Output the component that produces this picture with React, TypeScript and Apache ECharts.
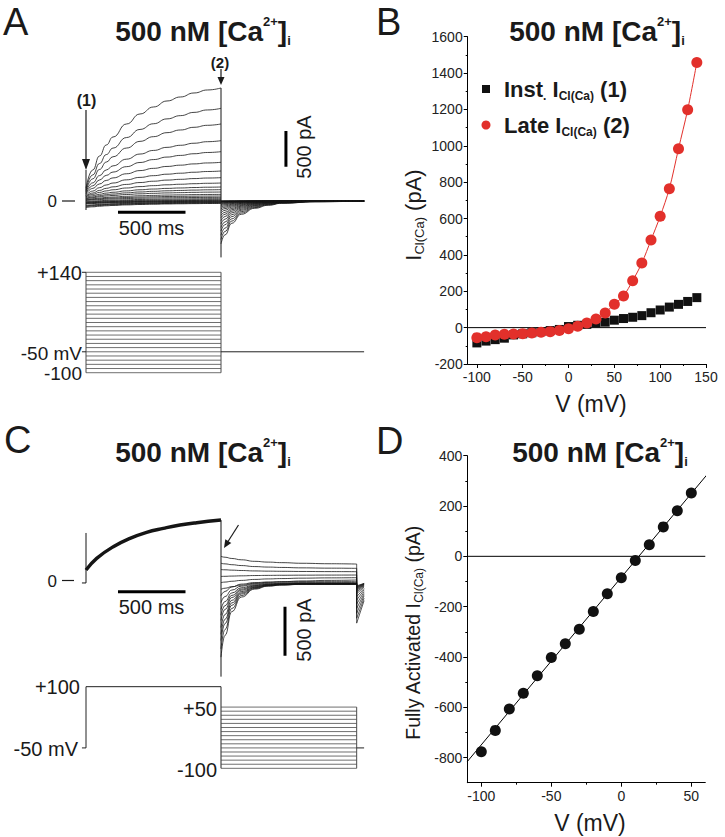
import React, { useEffect, useRef } from "react";
import * as echarts from "echarts";

const FONT = '"Liberation Sans", Arial, Helvetica, sans-serif';
const INK = "#1a1a1a";
const RED = "#e2302b";

// ---------- Panel B : I-V of instantaneous and late currents ----------
const B_V = [-100, -90, -80, -70, -60, -50, -40, -30, -20, -10, 0, 10, 20, 30, 40, 50, 60, 70, 80, 90, 100, 110, 120, 130, 140];
const B_INST = [-84, -74, -66, -58, -40, -34, -28, -22, -16, -10, 6, 13, 18, 26, 30, 41, 50, 57, 66, 82, 97, 113, 128, 144, 165];
const B_LATE = [-55, -50, -40, -37, -35, -33, -29, -26, -22, -16, -6, 7, 26, 48, 81, 129, 174, 258, 355, 482, 612, 764, 984, 1198, 1458];
const B_X_MAJOR = [-100, -50, 0, 50, 100, 150];
const B_X_MINOR = [-75, -25, 25, 75, 125];

// ---------- Panel D : fully activated I-V ----------
const D_V = [-100, -90, -80, -70, -60, -50, -40, -30, -20, -10, 0, 10, 20, 30, 40, 50];
const D_I = [-777, -692, -607, -544, -475, -402, -348, -290, -219, -149, -85, -17, 46, 117, 181, 252];
const D_FIT = [[-110, -816], [61, 323]];
const D_Y_MAJOR = [-800, -600, -400, -200, 0, 200, 400];
const D_Y_MINOR = [-700, -500, -300, -100, 100, 300];
const D_X_MAJOR = [-100, -50, 0, 50];
const D_X_MINOR = [-75, -25, 25];

// ---------- Panel A : current traces (pA) during steps, tails at -50 mV ----------
const A_V = [140, 130, 120, 110, 100, 90, 80, 70, 60, 50, 40, 30, 20, 10, 0, -10, -20, -30, -40, -50, -60, -70, -80, -90, -100];
const A_INST = [182, 161, 142, 125, 108, 96, 77, 64, 58, 46, 34, 28, 17, 12, 5, -10, -17, -24, -29, -36, -41, -62, -70, -80, -92];
const A_LATE = [1583, 1298, 1079, 845, 691, 542, 420, 327, 252, 196, 159, 126, 93, 70, 51, 33, 19, 9, 2, -4, -10, -16, -22, -28, -34];
const A_TAIL = [-600, -540, -480, -420, -370, -320, -275, -235, -200, -165, -135, -110, -88, -68, -52, -40, -30, -22, -16, -11, -7, -4, -2, -1, 0];
// normalised activation time course (ms, fraction)
const A_ACT_T = [0, 50, 100, 150, 200, 300, 400, 500, 600, 700, 800, 900, 1000];
const A_ACT_F = [0, 0.18, 0.32, 0.43, 0.51, 0.64, 0.74, 0.81, 0.87, 0.91, 0.95, 0.98, 1.0];
// normalised tail deactivation (ms after step end, fraction)
const A_TAIL_T = [0, 30, 80, 150, 250, 350, 450, 700, 1060];
const A_TAIL_F = [1, 0.79, 0.52, 0.31, 0.17, 0.1, 0.054, 0.018, 0];
const A_SPIKE_ON = [-126, 434];
const A_SPIKE_OFF = [1583, -790];
const A_PROTO_V = [-100, -90, -80, -70, -60, -50, -40, -30, -20, -10, 0, 10, 20, 30, 40, 50, 60, 70, 80, 90, 100, 110, 120, 130, 140];
const A_BAR_T = [[237, -158], [737, -158]];
const A_BAR_I = [[1481, 480], [1481, 980]];

// ---------- Panel C : +100 mV prepulse, then test steps ----------
const C_PRE = [[0, 112], [79, 231], [202, 350], [326, 435], [449, 497], [573, 537], [696, 571], [820, 595], [1000, 622]];
const C_BASE = [[-30, -20], [0, -20]];
const C_SPIKE_ON = [-20, 490];
const C_SPIKE_OFF = [622, -976];
const C_V = [50, 40, 30, 20, 10, 0, -10, -20, -30, -40, -50, -60, -70, -80, -90, -100];
const C_SS = [173, 129, 95, 61, 34, 10, -7, -17, -22, -26, -28, -30, -31, -32, -33, -34];
const C_END_TAIL = [-430, -380, -330, -280, -235, -195, -160, -130, -110, -95, -85, -75, -68, -62, -56, -50];
const C_END_TAIL2 = [-200, -175, -150, -130, -110, -90, -75, -60, -52, -45, -40, -36, -32, -29, -26, -24];
const C_TEST_T = [0, 30, 80, 150, 250, 350, 450, 600, 800, 1005];
const C_FAST_F = [0, 0.3, 0.625, 0.825, 0.935, 0.975, 0.99, 1, 1, 1];
const C_SLOW_F = [0, 0.12, 0.28, 0.45, 0.65, 0.75, 0.82, 0.9, 0.96, 1];
const C_PRE_V = 100;
const C_HOLD_V = -50;
const C_BAR_T = [[237, -109], [737, -109]];
const C_BAR_I = [[1474, -262], [1474, -762]];

const TRACE = "#151515";
const PROTO = "#4a4a4a";

function line(xi: number, data: any[], color: string, width: number, smooth: any = false, extra: any = {}) {
  return {
    type: "line",
    xAxisIndex: xi,
    yAxisIndex: xi,
    data,
    symbol: "none",
    smooth,
    smoothMonotone: smooth === true ? "x" : undefined,
    lineStyle: { color, width },
    silent: true,
    ...extra,
  };
}

function hiddenX(grid: number) {
  return { type: "value", gridIndex: grid, min: -200, max: 2060, show: false };
}
function hiddenY(grid: number, min: number, max: number) {
  return { type: "value", gridIndex: grid, min, max, show: false };
}

const plain = (v: number) => String(v);
const tickLabel = { fontSize: 14, color: "#222", fontFamily: FONT, formatter: plain };

function titleEl(x: number, y: number) {
  return {
    type: "text",
    x,
    y,
    style: {
      text: "{m|500 nM [Ca}{sup|2+}{m|]}{sub|i}",
      align: "center",
      verticalAlign: "middle",
      rich: {
        m: { fontSize: 28, fontWeight: "bold", fontFamily: FONT, fill: INK, lineHeight: 32 },
        sup: { fontSize: 13, fontWeight: "bold", fontFamily: FONT, fill: INK, verticalAlign: "top", lineHeight: 13 },
        sub: { fontSize: 13, fontWeight: "bold", fontFamily: FONT, fill: INK, verticalAlign: "bottom", lineHeight: 16 },
      },
    },
  };
}

function txt(x: number, y: number, text: string, size: number, align = "right", extra: any = {}) {
  return {
    type: "text",
    x,
    y,
    style: { text, fontSize: size, fontFamily: FONT, fill: INK, align, verticalAlign: "middle", ...extra },
  };
}

function gline(x1: number, y1: number, x2: number, y2: number, w = 1.2) {
  return { type: "line", shape: { x1, y1, x2, y2 }, style: { stroke: INK, lineWidth: w } };
}

function buildOption() {
  const series: any[] = [];

  // ---- Panel A traces (grid 0)
  A_V.forEach((_v, i) => {
    const inst = A_INST[i];
    const late = A_LATE[i];
    const tail = A_TAIL[i];
    series.push(line(0, A_ACT_T.map((t, k) => [t, inst + (late - inst) * A_ACT_F[k]]), TRACE, 0.8, true));
    series.push(line(0, A_TAIL_T.map((t, k) => [1000 + t, tail * A_TAIL_F[k]]), TRACE, 0.8, true));
  });
  series.push(line(0, [[0, A_SPIKE_ON[0]], [0, A_SPIKE_ON[1]]], TRACE, 1));
  series.push(line(0, [[1000, A_SPIKE_OFF[0]], [1000, A_SPIKE_OFF[1]]], TRACE, 1));
  series.push(line(0, A_BAR_T, "#000", 3));
  series.push(line(0, A_BAR_I, "#000", 3));

  // ---- Panel A protocol (grid 1)
  A_PROTO_V.forEach((v) => series.push(line(1, [[0, v], [1000, v]], PROTO, 0.8)));
  series.push(line(1, [[0, A_PROTO_V[0]], [0, A_PROTO_V[A_PROTO_V.length - 1]]], PROTO, 1));
  series.push(line(1, [[1000, A_PROTO_V[0]], [1000, A_PROTO_V[A_PROTO_V.length - 1]]], PROTO, 1));
  series.push(line(1, [[1000, -50], [2060, -50]], "#222", 1));
  series.push(line(1, [[-30, 140], [0, 140]], "#222", 1));
  series.push(line(1, [[-30, -50], [0, -50]], "#222", 1));

  // ---- Panel C traces (grid 2)
  series.push(line(2, C_BASE, TRACE, 1));
  series.push(line(2, [[0, C_SPIKE_ON[0]], [0, C_SPIKE_ON[1]]], TRACE, 1));
  series.push(line(2, C_PRE, TRACE, 3.4, 0.45));
  series.push(line(2, [[1000, C_SPIKE_OFF[0]], [1000, C_SPIKE_OFF[1]]], TRACE, 1));
  C_V.forEach((v, i) => {
    const s = D_I[D_V.indexOf(v)];
    const e = C_SS[i];
    const F = v >= 0 ? C_SLOW_F : C_FAST_F;
    series.push(line(2, C_TEST_T.map((t, k) => [1000 + t, s + (e - s) * F[k]]), TRACE, 0.8, true));
    series.push(line(2, [[2005, e], [2005, C_END_TAIL[i]], [2060, C_END_TAIL2[i]]], TRACE, 0.7));
  });
  series.push(line(2, C_BAR_T, "#000", 3));
  series.push(line(2, C_BAR_I, "#000", 3));

  // ---- Panel C protocol (grid 3)
  series.push(line(3, [[-30, C_HOLD_V], [0, C_HOLD_V], [0, C_PRE_V], [1000, C_PRE_V]], "#222", 1));
  series.push(line(3, [[1000, C_V[C_V.length - 1]], [1000, C_PRE_V]], "#222", 1));
  C_V.forEach((v) => series.push(line(3, [[1000, v], [2005, v]], PROTO, 0.8)));
  series.push(line(3, [[2005, C_V[C_V.length - 1]], [2005, C_V[0]]], PROTO, 1));
  series.push(line(3, [[2005, C_HOLD_V], [2060, C_HOLD_V]], "#222", 1));

  // ---- Panel B (axes 4)
  series.push(line(4, [[-110, 0], [150, 0]], "#000", 1));
  series.push({
    type: "scatter",
    xAxisIndex: 4,
    yAxisIndex: 4,
    data: B_V.map((v, i) => [v, B_INST[i]]),
    symbol: "rect",
    symbolSize: 9,
    itemStyle: { color: "#111", opacity: 1 },
    z: 3,
  });
  series.push({
    type: "line",
    xAxisIndex: 4,
    yAxisIndex: 4,
    data: B_V.map((v, i) => [v, B_LATE[i]]),
    symbol: "circle",
    symbolSize: 11,
    showSymbol: true,
    smooth: 0.3,
    itemStyle: { color: RED, borderWidth: 0, opacity: 1 },
    lineStyle: { color: RED, width: 1 },
    z: 4,
  });

  // ---- Panel D (axes 6)
  series.push(line(6, [[-110, 0], [60, 0]], "#000", 1));
  series.push(line(6, D_FIT, "#000", 1, false, { clip: false }));
  series.push({
    type: "scatter",
    xAxisIndex: 6,
    yAxisIndex: 6,
    data: D_V.map((v, i) => [v, D_I[i]]),
    symbol: "circle",
    symbolSize: 11,
    itemStyle: { color: "#111", opacity: 1 },
    z: 3,
  });

  const axLine = { onZero: false, lineStyle: { color: "#000", width: 1 } };

  const xAxis: any[] = [
    hiddenX(0),
    hiddenX(1),
    hiddenX(2),
    hiddenX(3),
    {
      type: "value", gridIndex: 4, min: -110, max: 150, position: "bottom",
      axisLine: axLine,
      axisTick: { show: true, customValues: B_X_MAJOR, length: 4, lineStyle: { color: "#000" } },
      axisLabel: { ...tickLabel, customValues: B_X_MAJOR, margin: 6 },
      splitLine: { show: false },
    },
    {
      type: "value", gridIndex: 4, min: -110, max: 150, position: "bottom",
      axisLine: { show: false, onZero: false },
      axisTick: { show: true, customValues: B_X_MINOR, length: 2, lineStyle: { color: "#000" } },
      axisLabel: { show: false },
      splitLine: { show: false },
    },
    {
      type: "value", gridIndex: 5, min: -110, max: 60, position: "bottom",
      axisLine: axLine,
      axisTick: { show: true, customValues: D_X_MAJOR, length: 4, lineStyle: { color: "#000" } },
      axisLabel: { ...tickLabel, customValues: D_X_MAJOR, margin: 6 },
      splitLine: { show: false },
    },
    {
      type: "value", gridIndex: 5, min: -110, max: 60, position: "bottom",
      axisLine: { show: false, onZero: false },
      axisTick: { show: true, customValues: D_X_MINOR, length: 2, lineStyle: { color: "#000" } },
      axisLabel: { show: false },
      splitLine: { show: false },
    },
  ];

  const yAxis: any[] = [
    hiddenY(0, -1000, 2000),
    hiddenY(1, -110, 150),
    hiddenY(2, -1100, 900),
    hiddenY(3, -110, 110),
    {
      type: "value", gridIndex: 4, min: -200, max: 1600, interval: 200, position: "left",
      axisLine: axLine,
      axisTick: { show: true, length: 4, lineStyle: { color: "#000" } },
      minorTick: { show: true, splitNumber: 2, length: 2, lineStyle: { color: "#000" } },
      axisLabel: { ...tickLabel, margin: 5 },
      splitLine: { show: false },
    },
    {
      type: "value", gridIndex: 4, min: -200, max: 1600, position: "left", show: false,
    },
    {
      type: "value", gridIndex: 5, min: -900, max: 400, position: "left",
      axisLine: axLine,
      axisTick: { show: true, customValues: D_Y_MAJOR, length: 4, lineStyle: { color: "#000" } },
      axisLabel: { ...tickLabel, customValues: D_Y_MAJOR, margin: 5 },
      splitLine: { show: false },
    },
    {
      type: "value", gridIndex: 5, min: -900, max: 400, position: "left",
      axisLine: { show: false, onZero: false },
      axisTick: { show: true, customValues: D_Y_MINOR, length: 2, lineStyle: { color: "#000" } },
      axisLabel: { show: false },
      splitLine: { show: false },
    },
  ];

  const legendRich = {
    m: { fontSize: 22, fontWeight: "bold", fontFamily: FONT, fill: INK, lineHeight: 26 },
    dot: { fontSize: 12, fontWeight: "bold", fontFamily: FONT, fill: INK, verticalAlign: "bottom", lineHeight: 14 },
    sub: { fontSize: 12, fontWeight: "bold", fontFamily: FONT, fill: INK, verticalAlign: "bottom", lineHeight: 16 },
  };

  const graphic: any[] = [
    // panel letters
    txt(3, 22, "A", 38, "left"),
    txt(376, 22, "B", 38, "left"),
    txt(4, 440, "C", 38, "left"),
    txt(376, 441, "D", 38, "left"),
    // titles
    titleEl(203, 31),
    titleEl(597, 31),
    titleEl(203, 452),
    titleEl(600, 452),
    // panel A labels
    txt(57, 201, "0", 17),
    gline(62, 201, 75, 201),
    txt(82, 273, "+140", 20),
    txt(82, 353, "-50 mV", 19),
    txt(82, 373, "-100", 19),
    txt(151.5, 228, "500 ms", 20, "center"),
    { ...txt(303.5, 147, "500 pA", 20, "center"), rotation: Math.PI / 2 },
    txt(86.5, 100, "(1)", 16, "center", { fontWeight: "bold" }),
    gline(86, 110, 86, 161),
    { type: "polygon", shape: { points: [[82, 159], [90, 159], [86, 170]] }, style: { fill: INK } },
    txt(220, 62, "(2)", 15, "center", { fontWeight: "bold" }),
    gline(221, 69, 221, 79),
    { type: "polygon", shape: { points: [[217.5, 77], [224.5, 77], [221, 85]] }, style: { fill: INK } },
    // panel C labels
    txt(57, 581, "0", 17),
    gline(62, 580.5, 74, 580.5),
    txt(80, 686.7, "+100", 20),
    txt(78, 749, "-50 mV", 20),
    txt(217, 709, "+50", 20),
    txt(217, 770, "-100", 20),
    txt(151.5, 607, "500 ms", 20, "center"),
    { ...txt(303.5, 630, "500 pA", 20, "center"), rotation: Math.PI / 2 },
    gline(238.5, 525, 228, 541.5),
    { type: "polygon", shape: { points: [[224, 548], [231.3, 543.1], [225.3, 539.3]] }, style: { fill: INK } },
    // panel B legend
    { type: "rect", shape: { x: 482, y: 85, width: 8, height: 8 }, style: { fill: "#111" } },
    { type: "circle", shape: { cx: 486, cy: 125, r: 4.5 }, style: { fill: RED } },
    {
      type: "text", x: 504, y: 89,
      style: { text: "{m|Inst}{dot|.}{m| I}{sub|Cl(Ca)}{m| (1)}", align: "left", verticalAlign: "middle", rich: legendRich },
    },
    {
      type: "text", x: 504, y: 125,
      style: { text: "{m|Late I}{sub|Cl(Ca)}{m| (2)}", align: "left", verticalAlign: "middle", rich: legendRich },
    },
    // axis names B
    {
      type: "text", x: 413, y: 215, rotation: Math.PI / 2,
      style: {
        text: "{m|I}{sub|Cl(Ca)}{m| (pA)}", align: "center", verticalAlign: "middle",
        rich: {
          m: { fontSize: 22, fontFamily: FONT, fill: INK, lineHeight: 26 },
          sub: { fontSize: 13, fontFamily: FONT, fill: INK, verticalAlign: "bottom", lineHeight: 16 },
        },
      },
    },
    txt(591, 404, "V (mV)", 23, "center"),
    // axis names D
    {
      type: "text", x: 413, y: 633, rotation: Math.PI / 2,
      style: {
        text: "{m|Fully Activated I}{sub|Cl(Ca)}{m| (pA)}", align: "center", verticalAlign: "middle",
        rich: {
          m: { fontSize: 19.5, fontFamily: FONT, fill: INK, lineHeight: 24 },
          sub: { fontSize: 12, fontFamily: FONT, fill: INK, verticalAlign: "bottom", lineHeight: 15 },
        },
      },
    },
    txt(590, 823, "V (mV)", 23, "center"),
  ];

  return {
    animation: false,
    backgroundColor: "#ffffff",
    grid: [
      { left: 59, top: 58.2, width: 305.1, height: 214.2 },
      { left: 59, top: 268.1, width: 305.1, height: 108.8 },
      { left: 59, top: 492.8, width: 305.1, height: 196 },
      { left: 59, top: 682.6, width: 305.1, height: 89.8 },
      { left: 467.7, top: 36.7, width: 238.3, height: 327.3 },
      { left: 467.3, top: 455.7, width: 238, height: 327 },
    ],
    xAxis,
    yAxis,
    series,
    graphic,
  };
}

export default function App() {
  const ref = useRef<HTMLDivElement>(null);
  useEffect(() => {
    document.body.style.margin = "0";
    if (!ref.current) return;
    const chart = echarts.init(ref.current, undefined, { renderer: "svg" });
    chart.setOption(buildOption() as any);
    return () => chart.dispose();
  }, []);
  return <div ref={ref} style={{ width: 725, height: 837, background: "#fff" }} />;
}
